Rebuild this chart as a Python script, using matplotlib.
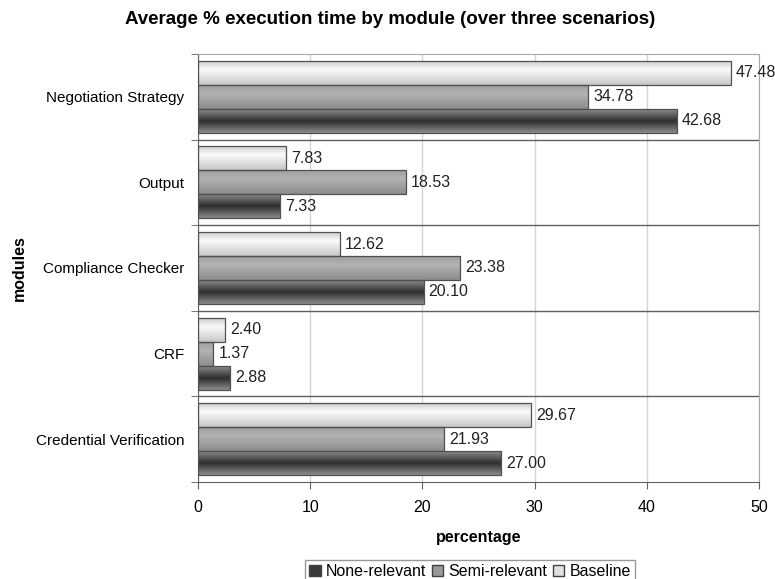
import numpy as np
import matplotlib
matplotlib.use("Agg")
import matplotlib.pyplot as plt
from matplotlib.patches import Patch

plt.rcParams['font.family'] = ['Liberation Sans', 'DejaVu Sans']

modules = ["Negotiation Strategy", "Output", "Compliance Checker", "CRF", "Credential Verification"]
baseline = [47.48, 7.83, 12.62, 2.40, 29.67]
semi_relevant = [34.78, 18.53, 23.38, 1.37, 21.93]
none_relevant = [42.68, 7.33, 20.10, 2.88, 27.00]
xticks = [0, 10, 20, 30, 40, 50]

# grey levels across the bar height, top -> bottom
shades = {
    "Baseline": ([0.0, 0.35, 1.0], [0.80, 0.98, 0.78]),
    "Semi-relevant": ([0.0, 0.35, 1.0], [0.62, 0.70, 0.55]),
    "None-relevant": ([0.0, 0.5, 1.0], [0.55, 0.18, 0.55]),
}
series = [("Baseline", baseline, 0.28),
          ("Semi-relevant", semi_relevant, 0.0),
          ("None-relevant", none_relevant, -0.28)]
h = 0.28

fig = plt.figure(figsize=(7.75, 5.79), dpi=100)
ax = fig.add_axes([198/775, 1-482/579, (759-198)/775, (482-54)/579])

t = np.linspace(0, 1, 64)
for name, vals, off in series:
    stops, greys = shades[name]
    prof = np.interp(t, stops, greys)[::-1].reshape(-1, 1)
    for i, v in enumerate(vals):
        yc = len(modules) - 1 - i + off
        ax.imshow(prof, extent=[0, v, yc - h/2, yc + h/2], origin='lower',
                  cmap='gray', vmin=0, vmax=1, aspect='auto',
                  interpolation='bicubic', zorder=2)
        ax.barh(yc, v, height=h, facecolor='none', edgecolor='#505050',
                linewidth=0.9, zorder=3)
        ax.text(v + 0.45, yc, f"{v:.2f}", va='center', ha='left',
                fontsize=11.5, color='#222222', clip_on=False, zorder=4)

ax.set_xlim(0, 50)
ax.set_ylim(-0.5, len(modules) - 0.5)
ax.set_xticks(xticks)
ax.set_yticks(range(len(modules)))
ax.set_yticklabels(modules[::-1])
ax.set_yticks(np.arange(-0.5, len(modules)), minor=True)
ax.tick_params(axis='y', which='major', length=0, pad=10, labelsize=11)
ax.tick_params(axis='y', which='minor', length=5, color='#606060')
ax.tick_params(axis='x', length=5, color='#606060', labelsize=11.5, pad=8)

ax.grid(axis='x', color='#d4d4d4', linewidth=1, zorder=0)
ax.set_axisbelow(True)
for yb in np.arange(0.5, len(modules) - 1):
    ax.axhline(yb, color='#606060', linewidth=1, zorder=1)

for s in ['left', 'bottom']:
    ax.spines[s].set_color('#606060')
for s in ['top', 'right']:
    ax.spines[s].set_color('#a8a8a8')

ax.set_xlabel("percentage", fontsize=11.5, fontweight='bold', labelpad=11)
ax.set_ylabel("modules", fontsize=11.5, fontweight='bold', labelpad=6)
fig.text(0.503, 1 - 19/579, "Average % execution time by module (over three scenarios)",
         ha='center', va='center', fontsize=13.5, fontweight='bold')

handles = [Patch(facecolor='#3a3a3a', edgecolor='#404040', label='None-relevant'),
           Patch(facecolor='#9a9a9a', edgecolor='#404040', label='Semi-relevant'),
           Patch(facecolor='#e0e0e0', edgecolor='#404040', label='Baseline')]
leg = fig.legend(handles=handles, loc='upper center', bbox_to_anchor=(470/775, 1 - 552/579),
                 ncol=3, frameon=True, fancybox=False, fontsize=11.5,
                 handlelength=0.7, handleheight=0.7, handletextpad=0.3,
                 columnspacing=0.4, borderpad=0.25)
leg.get_frame().set_edgecolor('#808080')

fig.savefig("out.png", dpi=100)
